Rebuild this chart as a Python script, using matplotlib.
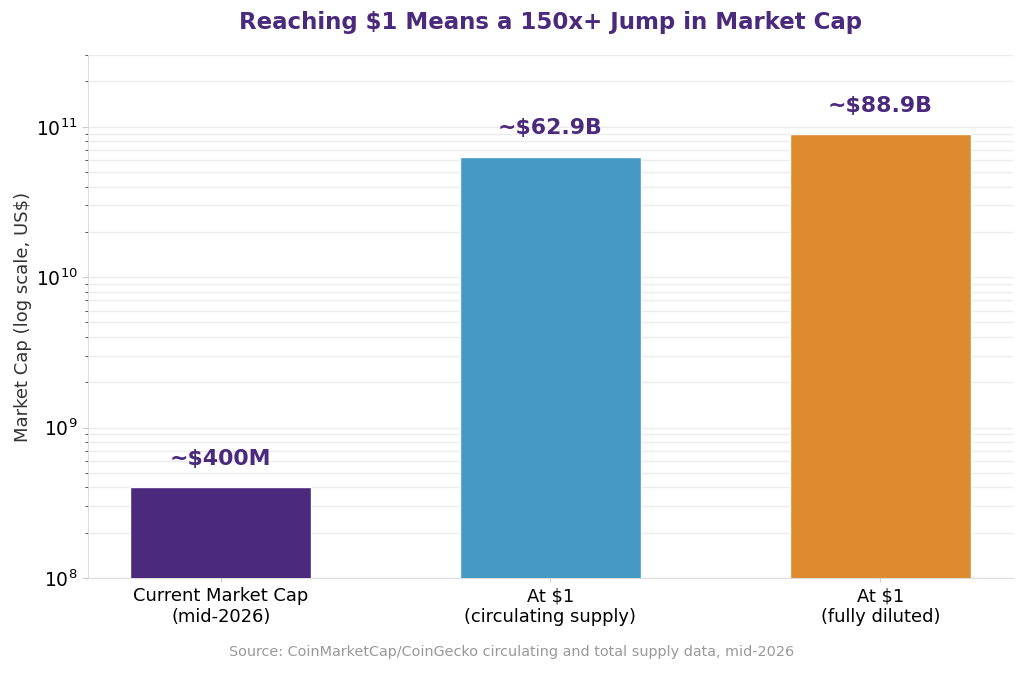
import matplotlib
matplotlib.use("Agg")
import matplotlib.pyplot as plt
import numpy as np

plt.rcParams["font.family"] = ["DejaVu Sans"]

categories = ["Current Market Cap\n(mid-2026)", "At $1\n(circulating supply)", "At $1\n(fully diluted)"]
values = [4.0e8, 6.29e10, 8.89e10]
labels = ["~$400M", "~$62.9B", "~$88.9B"]
colors = ["#4B2A7D", "#4499C5", "#DE8A2F"]
purple = "#4B2A7D"

fig = plt.figure(figsize=(10.24, 6.73), dpi=100)
ax = fig.add_axes([88/1024, 1-578/673, (1013-88)/1024, (578-55)/673])

x = np.arange(len(categories))
ax.bar(x, values, width=0.55, color=colors, edgecolor="white", linewidth=1, zorder=3)
ax.set_yscale("log")
ax.set_ylim(1e8, 3e11)
ax.set_xticks(x)
ax.set_xticklabels(categories, fontsize=12.9)
ax.tick_params(axis="y", labelsize=13.5, length=4, color="#cccccc")
ax.tick_params(axis="y", which="minor", length=2, color="#333333")
ax.tick_params(axis="x", length=3, color="#cccccc")
ax.set_ylabel("Market Cap (log scale, US$)", fontsize=13, color="#333333", labelpad=3)
ax.grid(axis="y", which="both", color="#ebebeb", linewidth=1, zorder=0)
for s in ["top", "right"]:
    ax.spines[s].set_visible(False)
for s in ["left", "bottom"]:
    ax.spines[s].set_color("#dddddd")

for xi, v, lab in zip(x, values, labels):
    ax.text(xi, v * 1.33, lab, ha="center", va="bottom", fontsize=15.8, fontweight="bold", color=purple, zorder=4)

fig.text((88 + 1013) / 2 / 1024, 1 - 22/673, "Reaching $1 Means a 150x+ Jump in Market Cap", ha="center", va="center",
         fontsize=16.5, fontweight="bold", color=purple)
fig.text(0.5, 1 - 652/673, "Source: CoinMarketCap/CoinGecko circulating and total supply data, mid-2026",
         ha="center", va="center", fontsize=10.4, color="#999999")

fig.savefig("out.png", dpi=100)
